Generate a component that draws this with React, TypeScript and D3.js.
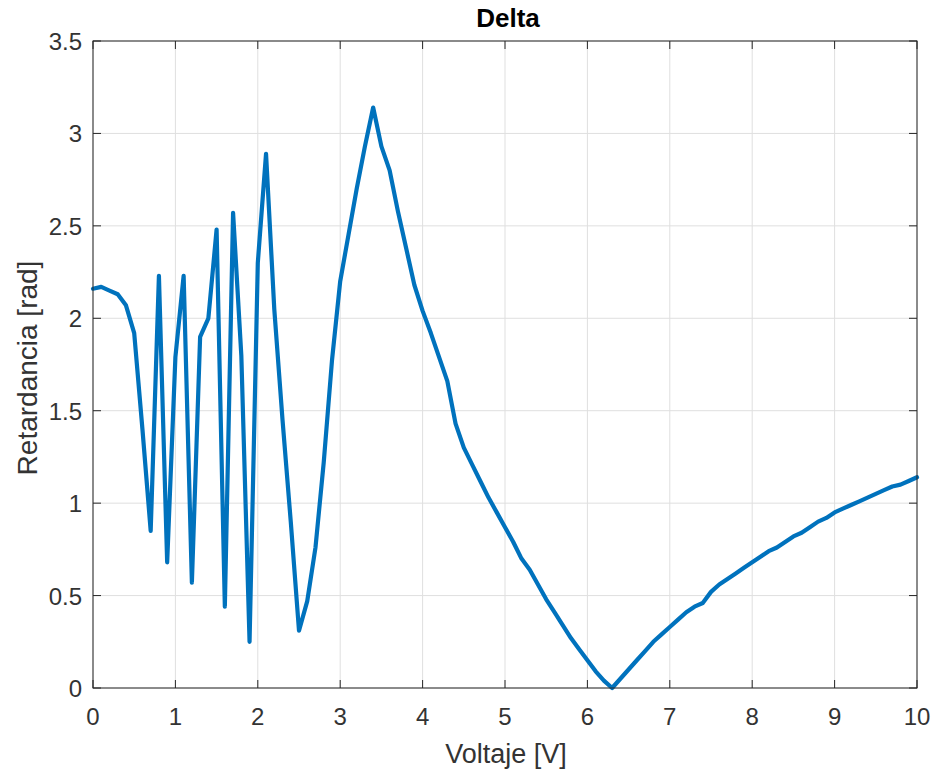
import React from "react";
import * as d3 from "d3";

const voltage: number[] = [
  0, 0.1, 0.2, 0.3, 0.4, 0.5, 0.6, 0.7, 0.8, 0.9,
  1.0, 1.1, 1.2, 1.3, 1.4, 1.5, 1.6, 1.7, 1.8, 1.9,
  2.0, 2.1, 2.2, 2.3, 2.4, 2.5, 2.6, 2.7, 2.8, 2.9,
  3.0, 3.1, 3.2, 3.3, 3.4, 3.5, 3.6, 3.7, 3.8, 3.9,
  4.0, 4.1, 4.2, 4.3, 4.4, 4.5, 4.6, 4.7, 4.8, 4.9,
  5.0, 5.1, 5.2, 5.3, 5.4, 5.5, 5.6, 5.7, 5.8, 5.9,
  6.0, 6.1, 6.2, 6.3, 6.4, 6.5, 6.6, 6.7, 6.8, 6.9,
  7.0, 7.1, 7.2, 7.3, 7.4, 7.5, 7.6, 7.7, 7.8, 7.9,
  8.0, 8.1, 8.2, 8.3, 8.4, 8.5, 8.6, 8.7, 8.8, 8.9,
  9.0, 9.1, 9.2, 9.3, 9.4, 9.5, 9.6, 9.7, 9.8, 9.9, 10.0,
];

const retardance: number[] = [
  2.16, 2.17, 2.15, 2.13, 2.07, 1.92, 1.4, 0.85, 2.23, 0.68,
  1.79, 2.23, 0.57, 1.9, 2.0, 2.48, 0.44, 2.57, 1.8, 0.25,
  2.3, 2.89, 2.05, 1.45, 0.9, 0.31, 0.47, 0.76, 1.22, 1.77,
  2.2, 2.45, 2.7, 2.93, 3.14, 2.93, 2.8, 2.58, 2.38, 2.18,
  2.04, 1.92, 1.79, 1.66, 1.43, 1.3, 1.21, 1.12, 1.03, 0.95,
  0.87, 0.79, 0.7, 0.64, 0.56, 0.48, 0.41, 0.34, 0.27, 0.21,
  0.15, 0.09, 0.04, 0.0, 0.05, 0.1, 0.15, 0.2, 0.25, 0.29,
  0.33, 0.37, 0.41, 0.44, 0.46, 0.52, 0.56, 0.59, 0.62, 0.65,
  0.68, 0.71, 0.74, 0.76, 0.79, 0.82, 0.84, 0.87, 0.9, 0.92,
  0.95, 0.97, 0.99, 1.01, 1.03, 1.05, 1.07, 1.09, 1.1, 1.12, 1.14,
];

const xTicks: number[] = [0, 1, 2, 3, 4, 5, 6, 7, 8, 9, 10];
const yTicks: number[] = [0, 0.5, 1, 1.5, 2, 2.5, 3, 3.5];

const W = 937;
const H = 772;
const left = 93;
const right = 917;
const top = 41;
const bottom = 688;

export default function App() {
  const x = d3.scaleLinear().domain([0, 10]).range([left, right]);
  const y = d3.scaleLinear().domain([0, 3.5]).range([bottom, top]);
  const line = d3
    .line<number>()
    .x((_, i) => x(voltage[i]))
    .y((d) => y(d));
  const font = "'Liberation Sans', Arial, Helvetica, sans-serif";
  const axisColor = "#262626";
  const labelColor = "#333333";
  const tick = 8;

  return (
    <svg
      width={W}
      height={H}
      style={{ position: "absolute", left: 0, top: 0, background: "#fff" }}
      fontFamily={font}
    >
      <rect x={0} y={0} width={W} height={H} fill="#fff" />
      {xTicks.map((t) => (
        <line key={"gx" + t} x1={x(t)} x2={x(t)} y1={top} y2={bottom} stroke="#dfdfdf" strokeWidth={1} />
      ))}
      {yTicks.map((t) => (
        <line key={"gy" + t} x1={left} x2={right} y1={y(t)} y2={y(t)} stroke="#dfdfdf" strokeWidth={1} />
      ))}
      <path
        d={line(retardance) || ""}
        fill="none"
        stroke="#0072BD"
        strokeWidth={4.2}
        strokeLinejoin="round"
        strokeLinecap="round"
      />
      <rect x={left} y={top} width={right - left} height={bottom - top} fill="none" stroke={axisColor} strokeWidth={1} />
      {xTicks.map((t) => (
        <g key={"tx" + t}>
          <line x1={x(t)} x2={x(t)} y1={bottom} y2={bottom - tick} stroke={axisColor} />
          <line x1={x(t)} x2={x(t)} y1={top} y2={top + tick} stroke={axisColor} />
          <text x={x(t)} y={725} textAnchor="middle" fontSize={24} fill={labelColor}>
            {t}
          </text>
        </g>
      ))}
      {yTicks.map((t) => (
        <g key={"ty" + t}>
          <line x1={left} x2={left + tick} y1={y(t)} y2={y(t)} stroke={axisColor} />
          <line x1={right} x2={right - tick} y1={y(t)} y2={y(t)} stroke={axisColor} />
          <text x={82} y={y(t) + 9} textAnchor="end" fontSize={24} fill={labelColor}>
            {t}
          </text>
        </g>
      ))}
      <text x={506} y={763} textAnchor="middle" fontSize={27} fill={labelColor}>
        Voltaje [V]
      </text>
      <text
        transform={`translate(37, 368) rotate(-90)`}
        textAnchor="middle"
        fontSize={28}
        fill={labelColor}
      >
        Retardancia [rad]
      </text>
      <text x={508} y={27} textAnchor="middle" fontSize={26} fontWeight="bold" fill="#000">
        Delta
      </text>
    </svg>
  );
}
